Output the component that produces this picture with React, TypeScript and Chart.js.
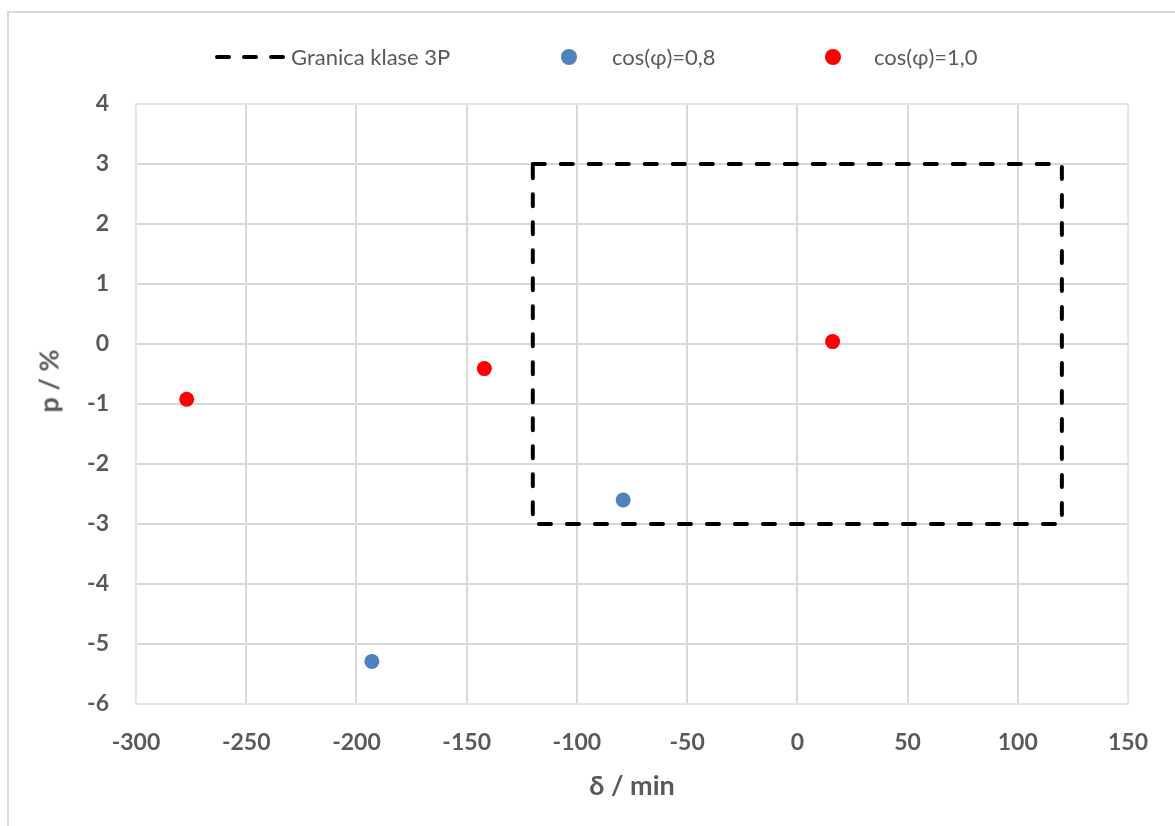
import React, { useEffect, useRef } from "react";
import { Chart, registerables } from "chart.js";

Chart.register(...registerables);

const boxX = [-120, 120, 120, -120, -120];
const boxY = [3, 3, -3, -3, 3];
const blueX = [-193, -79];
const blueY = [-5.29, -2.6];
const redX = [-277, -142, 16];
const redY = [-0.92, -0.41, 0.04];
const xTicks = [-300, -250, -200, -150, -100, -50, 0, 50, 100, 150];
const yTicks = [4, 3, 2, 1, 0, -1, -2, -3, -4, -5, -6];
const seriesNames = ["Granica klase 3P", "cos(φ)=0,8", "cos(φ)=1,0"];
const xTitle = "δ / min";
const yTitle = "p / %";

const FONT = "Lato, 'Open Sans', sans-serif";
const TEXT = "#595959";
const GRID = "#d9d9d9";
const FRAME = "#e8e5d9";
const BLUE = "#4f81bd";
const RED = "#ff0000";

const toPts = (xs: number[], ys: number[]) => xs.map((x, i) => ({ x, y: ys[i] }));

export default function App() {
  const ref = useRef<HTMLCanvasElement | null>(null);

  useEffect(() => {
    if (!ref.current) return;
    const chart = new Chart(ref.current, {
      type: "scatter",
      data: {
        datasets: [
          {
            label: seriesNames[0],
            data: toPts(boxX, boxY),
            showLine: true,
            borderColor: "#000000",
            borderWidth: 4,
            borderDash: [12, 16],
            borderCapStyle: "round",
            pointRadius: 0,
            fill: false,
          },
          {
            label: seriesNames[1],
            data: toPts(blueX, blueY),
            backgroundColor: BLUE,
            borderColor: BLUE,
            pointRadius: 7.5,
            pointBorderWidth: 0,
          },
          {
            label: seriesNames[2],
            data: toPts(redX, redY),
            backgroundColor: RED,
            borderColor: RED,
            pointRadius: 7.5,
            pointBorderWidth: 0,
          },
        ],
      },
      options: {
        animation: false,
        responsive: false,
        devicePixelRatio: 1,
        layout: { padding: { top: 104, right: 47, bottom: 0, left: 0 } },
        plugins: {
          legend: { display: false },
          tooltip: { enabled: false },
        },
        scales: {
          x: {
            type: "linear",
            min: -300,
            max: 150,
            afterBuildTicks: (s: any) => {
              s.ticks = xTicks.map((v) => ({ value: v }));
            },
            afterFit: (s: any) => {
              s.height = 122;
            },
            grid: {
              color: (c: any) => (c.tick && c.tick.value === 150 ? FRAME : GRID),
              lineWidth: 2,
              drawTicks: false,
            },
            border: { color: FRAME, width: 2 },
            ticks: {
              color: TEXT,
              padding: 25,
              font: { family: FONT, size: 23, weight: "bold" },
              maxRotation: 0,
            },
            title: {
              display: true,
              text: xTitle,
              color: TEXT,
              font: { family: FONT, size: 27, weight: "bold" },
              padding: { top: 0, bottom: 24 },
            },
          },
          y: {
            type: "linear",
            min: -6,
            max: 4,
            afterBuildTicks: (s: any) => {
              s.ticks = yTicks.map((v) => ({ value: v }));
            },
            afterFit: (s: any) => {
              s.width = 136;
            },
            grid: {
              color: (c: any) => (c.tick && c.tick.value === 4 ? FRAME : GRID),
              lineWidth: 2,
              drawTicks: false,
            },
            border: { color: FRAME, width: 2 },
            ticks: {
              color: TEXT,
              padding: 27,
              font: { family: FONT, size: 23, weight: "bold" },
            },
            title: { display: false },
          },
        },
      },
    });
    return () => chart.destroy();
  }, []);

  const legendText: React.CSSProperties = {
    position: "absolute",
    top: 57,
    transform: "translateY(-50%)",
    fontFamily: FONT,
    fontSize: 22,
    color: TEXT,
    whiteSpace: "nowrap",
    lineHeight: 1,
  };

  return (
    <div
      style={{
        position: "fixed",
        left: 0,
        top: 0,
        width: 1175,
        height: 826,
        overflow: "hidden",
        background: "#ffffff",
      }}
    >
      <div
        style={{
          position: "absolute",
          left: 7,
          top: 11,
          width: 1300,
          height: 1000,
          border: "2px solid #d9d9d9",
          boxSizing: "border-box",
        }}
      />
      <canvas ref={ref} width={1175} height={826} style={{ position: "absolute", left: 0, top: 0 }} />
      <div
        style={{
          position: "absolute",
          left: 48,
          top: 381,
          transform: "translate(-50%, -50%) rotate(-90deg)",
          fontFamily: FONT,
          fontSize: 27,
          fontWeight: "bold",
          color: TEXT,
          whiteSpace: "nowrap",
          lineHeight: 1,
        }}
      >
        {yTitle}
      </div>
      <svg
        width={1175}
        height={100}
        style={{ position: "absolute", left: 0, top: 0, pointerEvents: "none" }}
      >
        <line
          x1={217}
          y1={57}
          x2={285}
          y2={57}
          stroke="#000"
          strokeWidth={4}
          strokeDasharray="12 15"
          strokeLinecap="round"
        />
        <circle cx={569} cy={57} r={8} fill={BLUE} />
        <circle cx={833} cy={57} r={8} fill={RED} />
      </svg>
      <div style={{ ...legendText, left: 291 }}>{seriesNames[0]}</div>
      <div style={{ ...legendText, left: 612 }}>{seriesNames[1]}</div>
      <div style={{ ...legendText, left: 874 }}>{seriesNames[2]}</div>
    </div>
  );
}
